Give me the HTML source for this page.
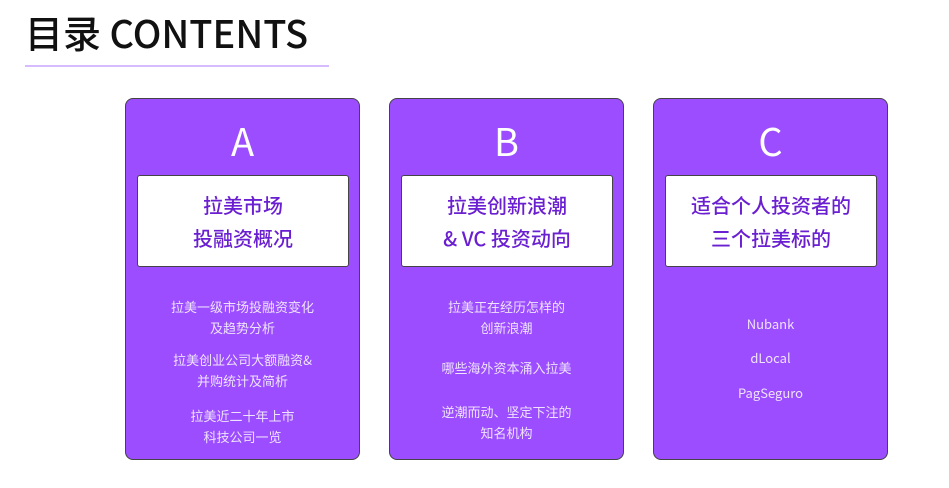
<!DOCTYPE html>
<html><head><meta charset="utf-8"><style>
body{margin:0;width:949px;height:488px;background:#fff;position:relative;overflow:hidden;font-family:"Liberation Sans","Noto Sans CJK SC",sans-serif}
.t{position:absolute;left:25px;top:8px;font-size:38px;color:#111;line-height:48px;font-weight:500;font-family:"Noto Sans CJK SC","Liberation Sans",sans-serif}
.u{position:absolute;left:25px;top:65px;width:304px;height:2px;background:#d6bcff}
.card{position:absolute;top:98px;width:235px;height:362px;background:#9b4dff;border:1px solid #444;border-radius:8px;box-sizing:border-box}
.L{position:absolute;top:118px;width:100%;text-align:center;color:#fff;font-size:38px;line-height:46px;font-family:"Noto Sans CJK SC",sans-serif}
.box{position:absolute;left:11px;top:76px;width:212px;height:92px;background:#fff;border:1px solid #444;border-radius:3px;box-sizing:border-box;display:flex;align-items:center;justify-content:center;text-align:center;color:#6a1fd0;font-size:20px;line-height:33px;font-weight:500;font-family:"Noto Sans CJK SC",sans-serif}
.s{position:absolute;width:100%;text-align:center;color:#f0e2ff;font-size:13px;line-height:21px;font-family:"Noto Sans CJK SC",sans-serif}
</style></head><body>
<div class="t">目录 CONTENTS</div><div class="u"></div>
<div class="card" style="left:125px"><div class="L" style="top:18px">A</div><div class="box">拉美市场<br>投融资概况</div>
<div class="s" style="top:197px">拉美一级市场投融资变化<br>及趋势分析</div>
<div class="s" style="top:250px">拉美创业公司大额融资&amp;<br>并购统计及简析</div>
<div class="s" style="top:306px">拉美近二十年上市<br>科技公司一览</div></div>
<div class="card" style="left:389px"><div class="L" style="top:18px">B</div><div class="box">拉美创新浪潮<br>&amp; VC 投资动向</div>
<div class="s" style="top:197px">拉美正在经历怎样的<br>创新浪潮</div>
<div class="s" style="top:258px">哪些海外资本涌入拉美</div>
<div class="s" style="top:302px">逆潮而动、坚定下注的<br>知名机构</div></div>
<div class="card" style="left:653px"><div class="L" style="top:18px">C</div><div class="box">适合个人投资者的<br>三个拉美标的</div>
<div class="s" style="top:214px">Nubank</div>
<div class="s" style="top:248px">dLocal</div>
<div class="s" style="top:283px">PagSeguro</div></div>
</body></html>
